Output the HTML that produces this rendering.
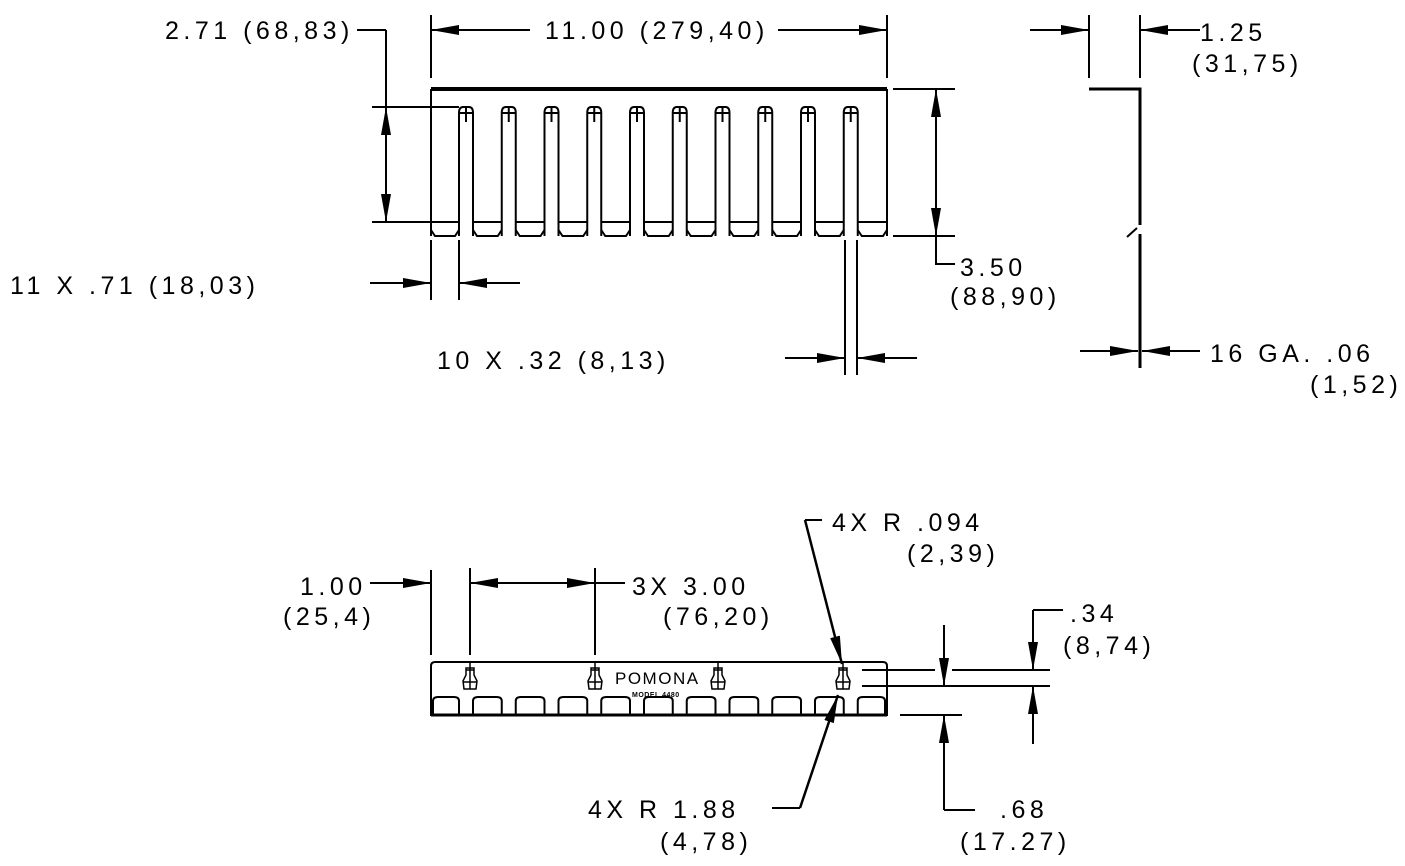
<!DOCTYPE html>
<html><head><meta charset="utf-8"><style>
html,body{margin:0;padding:0;background:#fff;}
svg{display:block}
text{font-family:"Liberation Sans",sans-serif;font-size:25px;fill:#000;letter-spacing:4.5px}
</style></head><body>
<svg id="s" width="1405" height="866" viewBox="0 0 1405 866" xmlns="http://www.w3.org/2000/svg">
<defs>
<marker id="a" viewBox="0 0 28 12" refX="28" refY="6" markerWidth="28" markerHeight="12" markerUnits="userSpaceOnUse" orient="auto"><path d="M0,1 L28,6 L0,11 Z" fill="#000"/></marker>
</defs>
<g stroke="#000" stroke-width="2" fill="none" id="g">
<line x1="431" y1="89" x2="887" y2="89" stroke-width="4"/>
<line x1="431" y1="89" x2="431" y2="236"/>
<line x1="887" y1="89" x2="887" y2="236"/>
<line x1="431" y1="15" x2="431" y2="78"/><line x1="887" y1="15" x2="887" y2="78"/>
<line x1="530" y1="30" x2="431" y2="30" marker-end="url(#a)"/>
<line x1="778" y1="30" x2="887" y2="30" marker-end="url(#a)"/>
<line x1="357" y1="30" x2="386" y2="30"/>
<line x1="386" y1="30" x2="386" y2="222"/>
<line x1="386" y1="164" x2="386" y2="107" marker-end="url(#a)"/>
<line x1="386" y1="164" x2="386" y2="222" marker-end="url(#a)"/>
<line x1="372" y1="107" x2="459" y2="107"/><line x1="372" y1="222" x2="431" y2="222"/>
<line x1="893" y1="89" x2="955" y2="89"/><line x1="893" y1="236" x2="955" y2="236"/>
<line x1="936" y1="160" x2="936" y2="89" marker-end="url(#a)"/>
<line x1="936" y1="160" x2="936" y2="236" marker-end="url(#a)"/>
<polyline points="936,236 936,264 955,264"/>
<line x1="431" y1="240" x2="431" y2="300"/><line x1="459" y1="240" x2="459" y2="300"/>
<line x1="370" y1="283" x2="431" y2="283" marker-end="url(#a)"/>
<line x1="520" y1="283" x2="459" y2="283" marker-end="url(#a)"/>
<line x1="845" y1="240" x2="845" y2="375"/><line x1="857" y1="240" x2="857" y2="375"/>
<line x1="785" y1="358" x2="845" y2="358" marker-end="url(#a)"/>
<line x1="917" y1="358" x2="857" y2="358" marker-end="url(#a)"/>
<polyline points="1089,89 1140,89 1140,225" stroke-width="3"/>
<line x1="1127" y1="237" x2="1137" y2="228"/>
<line x1="1140" y1="234" x2="1140" y2="368" stroke-width="3"/>
<line x1="1089" y1="15" x2="1089" y2="78"/><line x1="1140" y1="15" x2="1140" y2="78"/>
<line x1="1030" y1="30" x2="1089" y2="30" marker-end="url(#a)"/>
<line x1="1200" y1="30" x2="1140" y2="30" marker-end="url(#a)"/>
<line x1="1080" y1="351" x2="1138" y2="351" marker-end="url(#a)"/>
<line x1="1200" y1="351" x2="1142" y2="351" marker-end="url(#a)"/>
<path d="M431,715 L431,666 Q431,662 435,662 L883,662 Q887,662 887,666 L887,715 Z"/>
<line x1="370" y1="583" x2="431" y2="583" marker-end="url(#a)"/>
<line x1="431" y1="570" x2="431" y2="655"/><line x1="470" y1="568" x2="470" y2="655"/><line x1="595" y1="568" x2="595" y2="655"/>
<line x1="532" y1="583" x2="470" y2="583" marker-end="url(#a)"/>
<line x1="532" y1="583" x2="595" y2="583" marker-end="url(#a)"/>
<line x1="595" y1="583" x2="625" y2="583"/>
<polyline points="822,520 805,520"/>
<line x1="805" y1="520" x2="842" y2="664" marker-end="url(#a)" stroke-width="2.5"/>
<polyline points="772,808 800,808"/>
<line x1="800" y1="808" x2="838" y2="695" marker-end="url(#a)" stroke-width="2.5"/>
<line x1="862" y1="670" x2="935" y2="670"/><line x1="952" y1="670" x2="1050" y2="670"/>
<line x1="862" y1="686" x2="1050" y2="686"/>
<line x1="900" y1="715" x2="962" y2="715"/>
<line x1="944" y1="625" x2="944" y2="686" marker-end="url(#a)"/>
<line x1="944" y1="810" x2="944" y2="715" marker-end="url(#a)"/>
<polyline points="944,810 975,810"/>
<polyline points="1063,610 1033,610"/>
<line x1="1033" y1="610" x2="1033" y2="670" marker-end="url(#a)"/>
<line x1="1033" y1="744" x2="1033" y2="686" marker-end="url(#a)"/>
</g>
<text x="165" y="39">2.71 (68,83)</text>
<text x="545" y="39">11.00 (279,40)</text>
<text x="1200" y="41">1.25</text>
<text x="1192" y="72">(31,75)</text>
<text x="960" y="276">3.50</text>
<text x="950" y="305">(88,90)</text>
<text x="10" y="294">11 X .71 (18,03)</text>
<text x="437" y="369">10 X .32 (8,13)</text>
<text x="1210" y="362">16 GA. .06</text>
<text x="1310" y="393">(1,52)</text>
<text x="300" y="595">1.00</text>
<text x="283" y="625">(25,4)</text>
<text x="632" y="595">3X 3.00</text>
<text x="663" y="625">(76,20)</text>
<text x="832" y="531">4X R .094</text>
<text x="907" y="562">(2,39)</text>
<text x="1070" y="622">.34</text>
<text x="1063" y="654">(8,74)</text>
<text x="588" y="818">4X R 1.88</text>
<text x="660" y="850">(4,78)</text>
<text x="1000" y="818">.68</text>
<text x="960" y="850">(17.27)</text>
<text x="615" y="684" style="font-size:17px;letter-spacing:1.5px">POMONA</text>
<text x="632" y="697" style="font-size:7px;font-weight:bold;letter-spacing:0.5px">MODEL 4480</text>
</svg>
<script>
var g=document.getElementById('g'),ns='http://www.w3.org/2000/svg';
function el(t,a){var e=document.createElementNS(ns,t);for(var k in a)e.setAttribute(k,a[k]);g.appendChild(e);}
var P=42.75;
for(var k=0;k<10;k++){var l=459+P*k,r=l+14,c=l+7;
el('path',{d:'M'+l+',236 L'+l+',113 Q'+l+',107 '+(c-3)+',107 L'+(c+3)+',107 Q'+r+',107 '+r+',113 L'+r+',236'});
el('line',{x1:c,y1:107,x2:c,y2:122});el('line',{x1:l,y1:113,x2:r,y2:113});}
for(var k=0;k<11;k++){var a=(k==0?431:473+P*(k-1)),b=(k==10?887:459+P*k);
el('line',{x1:a,y1:222,x2:b,y2:222});
el('polyline',{points:a+',230 '+(a+4)+',236 '+(b-4)+',236 '+b+',230'});}
for(var k=0;k<11;k++){var a=(k==0?433:473+P*(k-1)),b=(k==10?885:459+P*k);
el('path',{d:'M'+(a)+',715 L'+a+',701 Q'+a+',697 '+(a+5)+',697 L'+(b-5)+',697 Q'+b+',697 '+b+',701 L'+b+',715'});}
el('line',{x1:431,y1:715,x2:887,y2:715,'stroke-width':3});
[470,595,718,843].forEach(function(x){
el('path',{d:'M'+(x-4)+',668 L'+(x-4)+',675 L'+(x-7)+',681 L'+(x-6)+',689 L'+(x+6)+',689 L'+(x+7)+',681 L'+(x+4)+',675 L'+(x+4)+',668 Z','stroke-width':1.5});
el('line',{x1:x,y1:662,x2:x,y2:689,'stroke-width':1.5});el('line',{x1:x-7,y1:682,x2:x+7,y2:682,'stroke-width':1.5});
el('line',{x1:x-4,y1:670,x2:x+4,y2:670,'stroke-width':1.5});});
</script>
</body></html>
